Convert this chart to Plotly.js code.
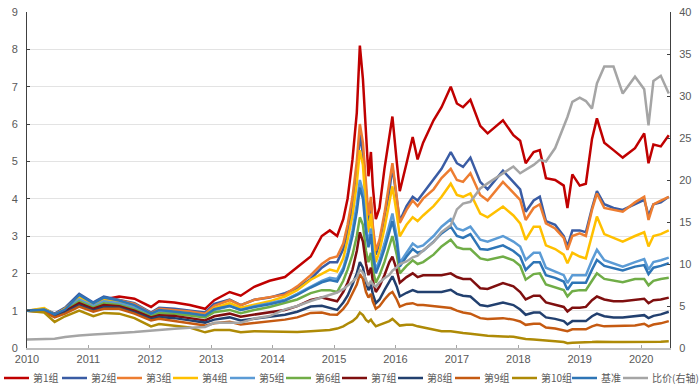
<!DOCTYPE html>
<html><head><meta charset="utf-8">
<script src="https://cdn.plot.ly/plotly-3.0.1.min.js"></script>
<style>html,body{margin:0;padding:0;background:#fff}#chart{width:699px;height:387px}</style>
</head><body><div id="chart"></div>
<script>
// decimal-year sample dates
const dates = [2010.00,2010.28,2010.45,2010.62,2010.85,2011.08,2011.25,2011.50,2011.75,2012.02,
2012.15,2012.40,2012.65,2012.90,2013.05,2013.30,2013.48,2013.70,2013.95,2014.20,
2014.40,2014.62,2014.80,2014.93,2015.05,2015.15,2015.22,2015.30,2015.37,2015.42,
2015.47,2015.52,2015.56,2015.60,2015.63,2015.68,2015.74,2015.82,2015.90,2015.95,
2016.02,2016.07,2016.18,2016.28,2016.36,2016.45,2016.62,2016.75,2016.90,2017.00,
2017.10,2017.22,2017.38,2017.50,2017.75,2017.92,2018.03,2018.12,2018.25,2018.35,
2018.45,2018.60,2018.74,2018.80,2018.88,2019.00,2019.10,2019.20,2019.28,2019.40,
2019.55,2019.70,2019.90,2020.05,2020.12,2020.20,2020.32,2020.45];

const g1 = [1.00,1.02,0.88,1.05,1.28,1.15,1.30,1.38,1.32,1.10,
1.25,1.22,1.15,1.05,1.28,1.50,1.40,1.64,1.80,1.90,
2.15,2.45,3.00,3.15,3.00,3.45,4.00,5.05,6.30,8.10,
7.20,5.60,4.60,5.25,4.35,3.45,3.75,4.80,5.70,6.20,
5.00,4.20,4.95,5.65,5.05,5.50,6.10,6.45,7.00,6.55,
6.45,6.65,5.95,5.75,6.10,5.70,5.55,4.95,5.25,5.30,
4.55,4.50,4.35,3.75,4.65,4.35,4.40,5.60,6.15,5.50,
5.30,5.10,5.35,5.75,4.95,5.45,5.40,5.70];
const g2 = [1.00,1.05,0.92,1.08,1.45,1.22,1.38,1.30,1.20,0.95,
1.08,1.05,1.00,0.95,1.18,1.30,1.15,1.29,1.35,1.47,
1.60,1.85,2.15,2.30,2.30,2.65,3.10,3.80,4.70,5.70,
5.20,4.10,3.40,3.90,3.20,2.50,2.80,3.50,4.20,4.85,
4.00,3.40,3.80,4.05,3.95,4.15,4.50,4.80,5.25,4.95,
4.85,5.10,4.45,4.25,4.75,4.45,4.25,3.65,3.95,4.05,
3.40,3.30,3.00,2.72,3.15,3.15,3.10,3.75,4.20,3.85,
3.75,3.70,3.85,3.97,3.55,3.85,3.90,4.05];
const g3 = [1.00,1.03,0.90,1.05,1.38,1.18,1.32,1.28,1.18,0.93,
1.05,1.02,0.98,0.92,1.13,1.28,1.15,1.29,1.35,1.43,
1.65,1.95,2.25,2.40,2.45,2.80,3.30,4.05,5.00,6.00,
5.50,4.25,3.55,4.05,3.30,2.60,2.90,3.60,4.40,4.95,
4.05,3.35,3.70,3.95,3.80,4.00,4.25,4.55,4.80,4.50,
4.45,4.68,4.10,3.95,4.45,4.15,3.97,3.43,3.75,3.85,
3.34,3.20,2.95,2.63,3.00,3.07,3.00,3.70,4.14,3.75,
3.70,3.65,3.90,4.05,3.43,3.85,3.95,4.05];
const g4 = [1.00,1.07,0.88,1.05,1.35,1.15,1.28,1.25,1.12,0.90,
1.00,0.97,0.93,0.87,1.07,1.20,1.08,1.16,1.25,1.38,
1.55,1.83,2.00,2.10,2.05,2.40,2.90,3.55,4.40,5.30,
4.90,3.70,3.10,3.60,2.95,2.30,2.60,3.20,3.90,4.33,
3.60,2.99,3.30,3.50,3.40,3.55,3.80,4.05,4.40,4.10,
4.05,4.14,3.60,3.50,3.79,3.55,3.34,2.90,3.25,3.25,
2.75,2.65,2.50,2.27,2.55,2.45,2.40,3.00,3.52,3.05,
2.95,2.85,3.00,3.10,2.72,3.00,3.05,3.15];
const g5 = [1.00,1.02,0.88,1.02,1.30,1.12,1.25,1.20,1.08,0.88,
0.97,0.95,0.90,0.85,1.02,1.12,1.02,1.12,1.20,1.29,
1.45,1.65,1.80,1.88,1.85,2.15,2.55,3.15,3.85,4.50,
4.20,3.25,2.80,3.20,2.60,2.10,2.35,2.80,3.30,3.60,
3.00,2.28,2.55,2.80,2.70,2.75,3.00,3.25,3.45,3.20,
3.15,3.25,2.90,2.85,3.00,2.85,2.72,2.36,2.55,2.55,
2.15,2.05,1.95,1.74,1.95,1.95,1.95,2.35,2.63,2.35,
2.27,2.18,2.30,2.38,2.10,2.30,2.35,2.42];
const g6 = [1.00,1.02,0.87,1.00,1.25,1.08,1.20,1.15,1.03,0.85,
0.93,0.92,0.87,0.82,0.96,1.02,0.93,1.02,1.10,1.20,
1.30,1.47,1.55,1.55,1.50,1.80,2.10,2.50,3.00,3.50,
3.30,2.60,2.30,2.55,2.10,1.75,1.95,2.30,2.75,3.00,
2.50,2.00,2.20,2.35,2.25,2.30,2.50,2.72,2.90,2.70,
2.65,2.65,2.40,2.36,2.45,2.35,2.20,1.83,1.98,2.00,
1.70,1.62,1.55,1.38,1.52,1.55,1.55,1.80,2.00,1.85,
1.80,1.76,1.85,1.85,1.68,1.80,1.85,1.88];
const g7 = [1.00,1.00,0.86,0.98,1.20,1.05,1.15,1.12,1.00,0.82,
0.88,0.86,0.80,0.74,0.85,0.92,0.84,0.89,0.95,1.02,
1.12,1.29,1.35,1.30,1.25,1.50,1.75,2.10,2.60,3.10,
2.85,2.25,1.95,2.15,1.80,1.50,1.65,1.95,2.30,2.45,
2.10,1.75,1.90,2.00,1.90,1.95,1.95,1.95,2.00,1.90,
1.85,1.85,1.60,1.58,1.74,1.65,1.50,1.30,1.40,1.40,
1.22,1.15,1.10,0.98,1.08,1.08,1.10,1.28,1.38,1.30,
1.25,1.25,1.28,1.32,1.20,1.28,1.30,1.35];
const g8 = [1.00,0.98,0.84,0.95,1.15,1.00,1.10,1.08,0.95,0.78,
0.83,0.80,0.74,0.68,0.76,0.82,0.74,0.78,0.83,0.89,
0.97,1.11,1.13,1.07,1.02,1.22,1.40,1.70,2.00,2.30,
2.15,1.75,1.55,1.70,1.45,1.20,1.30,1.55,1.80,1.92,
1.65,1.38,1.48,1.55,1.50,1.50,1.50,1.50,1.56,1.45,
1.40,1.38,1.15,1.12,1.22,1.15,1.03,0.89,0.95,0.95,
0.82,0.78,0.72,0.63,0.72,0.72,0.72,0.85,0.92,0.85,
0.82,0.82,0.85,0.88,0.80,0.86,0.90,0.97];
const g9 = [1.00,0.97,0.82,0.92,1.11,0.97,1.05,1.05,0.92,0.74,
0.78,0.72,0.66,0.60,0.66,0.70,0.63,0.67,0.70,0.76,
0.82,0.94,0.95,0.90,0.89,1.05,1.20,1.45,1.70,1.98,
1.85,1.50,1.35,1.45,1.25,1.05,1.12,1.30,1.45,1.50,
1.30,1.11,1.18,1.20,1.15,1.15,1.12,1.10,1.07,1.00,
0.95,0.92,0.80,0.78,0.80,0.76,0.71,0.62,0.65,0.65,
0.55,0.52,0.48,0.45,0.50,0.50,0.50,0.58,0.62,0.58,
0.58,0.58,0.60,0.65,0.58,0.63,0.66,0.72];
const g10 = [1.00,0.95,0.70,0.85,1.00,0.85,0.94,0.92,0.80,0.58,
0.64,0.60,0.55,0.42,0.48,0.48,0.42,0.45,0.44,0.42,
0.43,0.45,0.46,0.48,0.52,0.58,0.65,0.72,0.82,0.95,
0.88,0.75,0.70,0.76,0.68,0.58,0.62,0.68,0.72,0.78,
0.68,0.60,0.62,0.62,0.58,0.55,0.50,0.45,0.45,0.42,
0.40,0.38,0.34,0.33,0.31,0.30,0.27,0.24,0.23,0.22,
0.19,0.18,0.16,0.13,0.14,0.14,0.14,0.16,0.17,0.16,
0.16,0.16,0.16,0.17,0.15,0.16,0.17,0.18];
const bench = [1.00,1.03,0.90,1.03,1.42,1.20,1.35,1.27,1.15,0.92,
1.02,0.98,0.93,0.87,1.04,1.13,1.02,1.10,1.17,1.27,
1.42,1.62,1.76,1.82,1.78,2.08,2.45,3.00,3.65,4.30,
4.00,3.10,2.70,3.05,2.50,2.00,2.25,2.65,3.15,3.40,
2.85,2.18,2.45,2.65,2.55,2.60,2.85,3.07,3.25,3.00,
2.95,3.05,2.65,2.63,2.75,2.60,2.45,2.09,2.30,2.30,
1.95,1.88,1.78,1.56,1.75,1.75,1.75,2.10,2.36,2.20,
2.15,2.08,2.18,2.22,1.98,2.15,2.20,2.27];
const ratio = [1.0,1.1,1.1,1.3,1.5,1.6,1.7,1.8,1.9,2.1,
2.2,2.3,2.4,2.5,3.0,3.0,3.0,3.5,3.8,4.6,
5.0,5.6,6.0,6.3,6.6,7.0,7.4,7.9,8.4,9.3,
9.0,8.0,7.4,8.0,7.6,7.3,7.8,8.3,8.7,9.2,
9.6,10.0,10.3,10.8,11.0,11.6,12.6,13.8,14.6,16.5,
17.2,17.4,19.0,19.6,20.8,21.6,20.8,21.2,21.8,22.4,
22.2,23.8,26.3,27.5,29.3,29.8,29.4,28.5,31.5,33.5,
33.5,30.3,32.3,30.8,26.5,31.8,32.4,30.3];

const seriesNames = ['第1组','第2组','第3组','第4组','第5组','第6组','第7组','第8组','第9组','第10组','基准','比价(右轴)'];
const seriesValues = [g1,g2,g3,g4,g5,g6,g7,g8,g9,g10,bench,ratio];
const yearTicks = [2010,2011,2012,2013,2014,2015,2016,2017,2018,2019,2020];
const leftTicks = [0,1,2,3,4,5,6,7,8,9];
const rightTicks = [0,5,10,15,20,25,30,35,40];

const colors = ['#C00000','#3A5CA4','#ED7D31','#FFC000','#5B9BD5','#70AD47','#7F0F0F','#22406F','#C55A11','#AE8A06','#2E75B6','#A5A5A5'];

const traces = seriesNames.map((n,i)=>({
  x: dates, y: seriesValues[i], name: n, type:'scatter', mode:'lines',
  yaxis: i===11 ? 'y2' : 'y',
  line:{color:colors[i], width:2.5},
  showlegend:false, hoverinfo:'skip'
}));

// custom legend
const W=699,H=387,ml=27,mr=29,mt=12,mb=39;
const pw=W-ml-mr, ph=H-mt-mb;
const legStarts=[4,62,117,173,230,286,342,398,455,512,572,623];
const legY=378;
const shapes=[], annotations=[];
const px2x = p => (p-ml)/pw, py2y = p => (H-mb-p)/ph;
seriesNames.forEach((n,i)=>{
  shapes.push({type:'line',xref:'paper',yref:'paper',x0:px2x(legStarts[i]),x1:px2x(legStarts[i]+25),
    y0:py2y(legY),y1:py2y(legY),line:{color:colors[i],width:2.5}});
  annotations.push({xref:'paper',yref:'paper',x:px2x(legStarts[i]+27),y:py2y(legY),text:n,showarrow:false,
    xanchor:'left',yanchor:'middle',font:{family:'Noto Sans CJK SC',size:10,color:'#595959'}});
});

const tickFont={family:'Liberation Sans, Arial, sans-serif',size:11,color:'#595959'};
const layout={
  width:W,height:H,margin:{l:ml,r:mr,t:mt,b:mb,pad:0},
  paper_bgcolor:'#fff',plot_bgcolor:'#fff',showlegend:false,
  xaxis:{type:'linear',range:[2010,2020.47],tickvals:yearTicks,ticktext:yearTicks.map(String),
    ticks:'inside',ticklen:3,tickcolor:'#a6a6a6',showline:true,linecolor:'#bfbfbf',linewidth:2,
    showgrid:false,zeroline:false,tickfont:tickFont,fixedrange:true},
  yaxis:{range:[0,9],tickvals:leftTicks,ticks:'inside',ticklen:3,tickcolor:'#404040',
    showline:true,linecolor:'#404040',linewidth:1,showgrid:true,gridcolor:'#e3e3e3',gridwidth:1,
    zeroline:false,tickfont:tickFont,ticklabelstandoff:6},
  yaxis2:{range:[0,40],tickvals:rightTicks,overlaying:'y',side:'right',ticks:'inside',ticklen:3,tickcolor:'#404040',
    showline:true,linecolor:'#404040',linewidth:1,showgrid:false,zeroline:false,tickfont:tickFont,ticklabelstandoff:6},
  shapes:shapes,annotations:annotations
};
Plotly.newPlot('chart',traces,layout,{staticPlot:true});
</script></body></html>
